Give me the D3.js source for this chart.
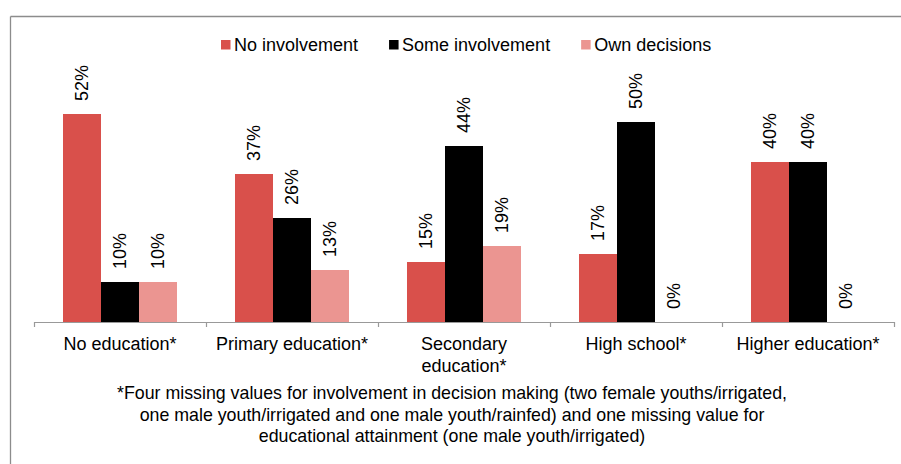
<!DOCTYPE html>
<html>
<head>
<meta charset="UTF-8">
<title>Involvement in decision making by education</title>
<script src="https://cdn.jsdelivr.net/npm/d3@7"></script>
<style>
  body { margin: 0; background: #fff; }
  text { font-family: "Liberation Sans", Arial, sans-serif; fill: #000; }
</style>
</head>
<body>
<script>
  // data
  var categories = ['No education*', 'Primary education*', 'Secondary education*', 'High school*', 'Higher education*'];
  var seriesNames = ['No involvement', 'Some involvement', 'Own decisions'];
  var noInvolvement = [52, 37, 15, 17, 40];
  var someInvolvement = [10, 26, 44, 50, 40];
  var ownDecisions = [10, 13, 19, 0, 0];
  var footnote = [
    '*Four missing values for involvement in decision making (two female youths/irrigated,',
    'one male youth/irrigated and one male youth/rainfed) and one missing value for',
    'educational attainment (one male youth/irrigated)'
  ];

  var seriesValues = [noInvolvement, someInvolvement, ownDecisions];
  var colors = ['#d9504b', '#000000', '#eb9591'];

  var width = 901, height = 464;
  var svg = d3.select('body').append('svg')
    .attr('width', width)
    .attr('height', height);

  // outer frame (top + left only visible)
  svg.append('line')
    .attr('x1', 10.5).attr('x2', width)
    .attr('y1', 16.5).attr('y2', 16.5)
    .attr('stroke', '#8c8c8c').attr('stroke-width', 1.3);
  svg.append('line')
    .attr('x1', 10.5).attr('x2', 10.5)
    .attr('y1', 16.5).attr('y2', height)
    .attr('stroke', '#8c8c8c').attr('stroke-width', 1.3);

  var x = d3.scaleBand()
    .domain(categories)
    .range([34, 894])
    .padding(0);

  var xSub = d3.scaleBand()
    .domain(seriesNames)
    .range([0, x.bandwidth()])
    .paddingInner(0)
    .paddingOuter(0.763);

  var y = d3.scaleLinear()
    .domain([0, 60])
    .range([322, 82]);

  var rows = [];
  categories.forEach(function(c, i) {
    seriesNames.forEach(function(s, j) {
      rows.push({cat: c, series: s, value: seriesValues[j][i], color: colors[j]});
    });
  });

  var bars = svg.append('g');
  bars.selectAll('rect')
    .data(rows)
    .enter()
    .append('rect')
    .attr('x', function(d) { return x(d.cat) + xSub(d.series); })
    .attr('y', function(d) { return y(d.value); })
    .attr('width', xSub.bandwidth())
    .attr('height', function(d) { return y(0) - y(d.value); })
    .attr('fill', function(d) { return d.color; });

  // value labels, rotated
  svg.append('g').selectAll('text')
    .data(rows)
    .enter()
    .append('text')
    .attr('transform', function(d) {
      var cx = x(d.cat) + xSub(d.series) + xSub.bandwidth() / 2;
      return 'translate(' + cx + ',' + (y(d.value) - 13) + ') rotate(-90)';
    })
    .attr('dominant-baseline', 'central')
    .attr('font-size', 18)
    .text(function(d) { return d.value + '%'; });

  // baseline and category separators
  var axis = svg.append('g');
  axis.append('line')
    .attr('x1', x.range()[0]).attr('x2', x.range()[1])
    .attr('y1', y(0) + 0.5).attr('y2', y(0) + 0.5)
    .attr('stroke', '#999').attr('stroke-width', 1.2);
  var edges = categories.map(function(c) { return x(c); }).concat([x.range()[1]]);
  axis.selectAll('line.tick')
    .data(edges)
    .enter()
    .append('line')
    .attr('class', 'tick')
    .attr('x1', function(d) { return d + 0.5; })
    .attr('x2', function(d) { return d + 0.5; })
    .attr('y1', y(0)).attr('y2', y(0) + 5)
    .attr('stroke', '#999').attr('stroke-width', 1.2);

  // category labels, wrapped to the band
  axis.selectAll('text.cat')
    .data(categories)
    .enter()
    .append('text')
    .attr('class', 'cat')
    .attr('text-anchor', 'middle')
    .attr('font-size', 18)
    .attr('x', function(d) { return x(d) + x.bandwidth() / 2; })
    .attr('y', 350)
    .each(function(d) {
      var t = d3.select(this);
      t.text(d);
      if (this.getComputedTextLength() > x.bandwidth()) {
        var words = d.split(' ');
        t.text(null);
        t.append('tspan').attr('x', x(d) + x.bandwidth() / 2).text(words.slice(0, -1).join(' '));
        t.append('tspan').attr('x', x(d) + x.bandwidth() / 2).attr('dy', 21.5).text(words[words.length - 1]);
      }
    });

  // legend
  var legend = svg.append('g').attr('transform', 'translate(221,0)');
  var lx = 0;
  seriesNames.forEach(function(s, i) {
    var item = legend.append('g').attr('transform', 'translate(' + lx + ',0)');
    item.append('rect')
      .attr('x', 0).attr('y', 40)
      .attr('width', 9.5).attr('height', 9.5)
      .attr('fill', colors[i]);
    var txt = item.append('text')
      .attr('x', 13).attr('y', 51)
      .attr('font-size', 18)
      .text(s);
    lx += 13 + txt.node().getComputedTextLength() + 31;
  });

  // footnote
  svg.append('g').selectAll('text')
    .data(footnote)
    .enter()
    .append('text')
    .attr('text-anchor', 'middle')
    .attr('font-size', 17.8)
    .attr('x', 452)
    .attr('y', function(d, i) { return 399 + i * 21.5; })
    .text(function(d) { return d; });
</script>
</body>
</html>
